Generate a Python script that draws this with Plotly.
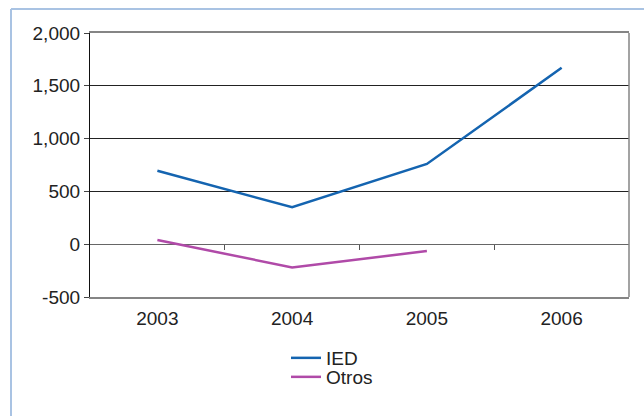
import plotly.graph_objects as go

# Series data
years = [2003, 2004, 2005, 2006]
ied = [695, 350, 760, 1670]
otros_years = [2003, 2004, 2005]
otros = [40, -220, -65]

y_ticks = [-500, 0, 500, 1000, 1500, 2000]
y_tick_text = ["-500", "0", "500", "1,000", "1,500", "2,000"]

W, H = 644, 416
L, R, T, B = 90, 15, 33, 119
pw, ph = W - L - R, H - T - B

def px_x(x):
    return (x - L) / pw

def px_y(y):
    return (H - B - y) / ph

font = dict(family="Liberation Sans, Arial, sans-serif", size=19, color="#222222")

fig = go.Figure()
fig.add_trace(go.Scatter(x=years, y=ied, mode="lines", name="IED",
                         line=dict(color="#1464b0", width=2.5), legend="legend"))
fig.add_trace(go.Scatter(x=otros_years, y=otros, mode="lines", name="Otros",
                         line=dict(color="#b04aa8", width=2.5), legend="legend2"))

ymin, ymax = -500, 2000
legend_common = dict(xanchor="left", yanchor="top", bgcolor="rgba(0,0,0,0)", font=font)
fig.update_layout(
    width=W, height=H,
    margin=dict(l=L, r=R, t=T, b=B, pad=0),
    paper_bgcolor="white", plot_bgcolor="white",
    font=font,
    showlegend=True,
    legend=dict(x=px_x(286), y=px_y(339), **legend_common),
    legend2=dict(x=px_x(286), y=px_y(358), **legend_common),
    xaxis=dict(
        range=[2002.5, 2006.5], tickvals=years, ticktext=[str(y) for y in years],
        showgrid=False, zeroline=False,
        showline=True, linecolor="#858585", linewidth=1.5, mirror=True,
        ticks="outside", ticklen=3, tickcolor="rgba(0,0,0,0)",
    ),
    xaxis2=dict(
        overlaying="x", anchor="free", position=(0 - ymin) / (ymax - ymin),
        range=[2002.5, 2006.5], tickvals=[2003.5, 2004.5, 2005.5],
        ticks="outside", ticklen=5, tickcolor="#555555", tickwidth=1,
        showticklabels=False, showgrid=False, zeroline=False, showline=False,
    ),
    yaxis=dict(
        range=[ymin, ymax], tickvals=y_ticks, ticktext=y_tick_text,
        showgrid=True, gridcolor="#222222", gridwidth=1,
        zeroline=True, zerolinecolor="#666666", zerolinewidth=1.2,
        showline=True, linecolor="#111111", linewidth=1.2,
        ticks="outside", ticklen=5, tickcolor="#444444",
    ),
    shapes=[
        # right edge of plot area
        dict(type="line", xref="paper", yref="paper", x0=1, x1=1, y0=0, y1=1,
             line=dict(color="#858585", width=1.5), layer="above"),
        # outer frame (top and left)
        dict(type="line", xref="paper", yref="paper",
             x0=px_x(11), x1=px_x(646), y0=px_y(9), y1=px_y(9),
             line=dict(color="#a9c3e3", width=2)),
        dict(type="line", xref="paper", yref="paper",
             x0=px_x(11), x1=px_x(11), y0=px_y(9), y1=px_y(418),
             line=dict(color="#a9c3e3", width=2)),
    ],
)
# empty trace that activates the zero-line tick axis
fig.add_trace(go.Scatter(x=[2003], y=[None], xaxis="x2", showlegend=False,
                         hoverinfo="skip"))

fig.write_html("out.html")
